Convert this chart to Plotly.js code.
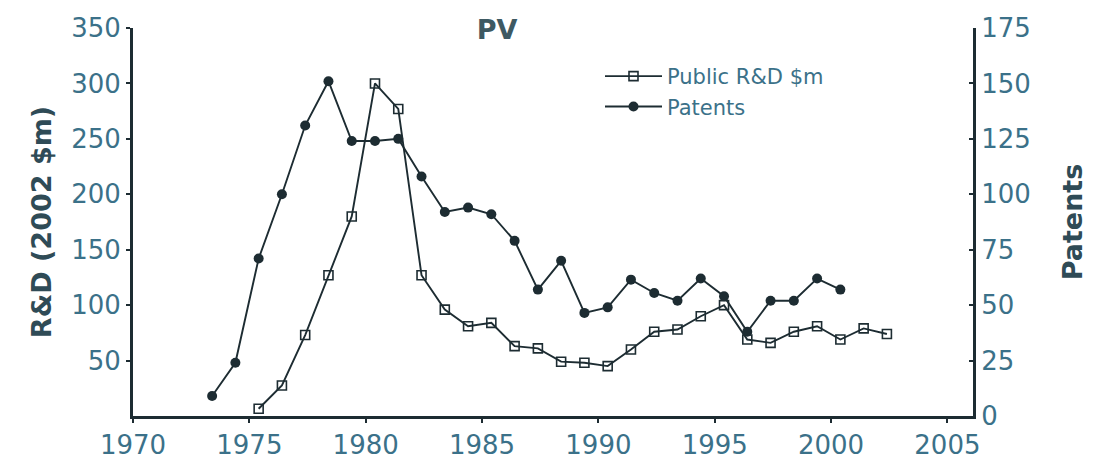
<!DOCTYPE html>
<html>
<head>
<meta charset="utf-8">
<script src="https://cdn.plot.ly/plotly-3.0.1.min.js"></script>
<style>html,body{margin:0;padding:0;background:#fff;}#chart{width:1113px;height:469px;}</style>
</head>
<body>
<div id="chart"></div>
<script>
// Data
const rdYears = [1975,1976,1977,1978,1979,1980,1981,1982,1983,1984,1985,1986,1987,1988,1989,1990,1991,1992,1993,1994,1995,1996,1997,1998,1999,2000,2001,2002];
const rdValues = [6.5,27.5,73,127,180,300,277,127,96,81,84,63,61,49,48,45,60,76,78,90,100,69,66,76,81,69,79,74];
const patentYears = [1973,1974,1975,1976,1977,1978,1979,1980,1981,1982,1983,1984,1985,1986,1987,1988,1989,1990,1991,1992,1993,1994,1995,1996,1997,1998,1999,2000];
const patentValues = [9,24,71,100,131,151,124,124,125,108,92,94,91,79,57,70,46.5,49,61.5,55.5,52,62,54,38,52,52,62,57];
const xTickVals = [1970,1975,1980,1985,1990,1995,2000,2005];
const leftTickVals = [50,100,150,200,250,300,350];
const rightTickVals = [0,25,50,75,100,125,150,175];

const midYear = 0.4; // points are drawn part-way into each year
const lineCol = '#1d2c32';
const tickCol = '#3b7189';
const titleCol = '#2f4b56';
const FONT = 'DejaVu Sans, sans-serif';

const traces = [
  {
    x: rdYears.map(y => y + midYear), y: rdValues, yaxis: 'y',
    name: 'Public R&D $m', mode: 'lines+markers',
    line: {color: lineCol, width: 1.9},
    marker: {symbol: 'square-open', size: 9, color: lineCol, line: {width: 1.6, color: lineCol}}
  },
  {
    x: patentYears.map(y => y + midYear), y: patentValues, yaxis: 'y2',
    name: 'Patents', mode: 'lines+markers',
    line: {color: lineCol, width: 1.9},
    marker: {symbol: 'circle', size: 10, color: lineCol}
  }
];

const layout = {
  width: 1113, height: 469,
  margin: {l: 133, r: 140, t: 28, b: 53},
  paper_bgcolor: '#fff', plot_bgcolor: '#fff',
  font: {family: FONT, color: tickCol},
  showlegend: true,
  title: {text: '<b>PV</b>', x: 497/1113, xanchor: 'center', y: 1 - 30/469, yanchor: 'middle',
          font: {family: FONT, size: 27, color: '#3e5962'}},
  xaxis: {
    range: [1970, 2006.1], tickvals: xTickVals, ticktext: xTickVals.map(String),
    showgrid: false, zeroline: false, showline: true, linecolor: lineCol, linewidth: 3,
    ticks: 'outside', ticklen: 4, tickwidth: 2, tickcolor: lineCol,
    tickfont: {size: 26, color: tickCol, family: FONT}
  },
  yaxis: {
    range: [0, 350], tickvals: leftTickVals, ticktext: leftTickVals.map(String),
    showgrid: false, zeroline: false, showline: true, linecolor: lineCol, linewidth: 3,
    ticks: 'outside', ticklen: 4, tickwidth: 2, tickcolor: lineCol,
    tickfont: {size: 26, color: tickCol, family: FONT},
    title: {text: '<b>R&D (2002 $m)</b>', standoff: 12, font: {size: 27, color: titleCol, family: FONT}}
  },
  yaxis2: {
    range: [0, 175], tickvals: rightTickVals, ticktext: rightTickVals.map(String),
    overlaying: 'y', side: 'right',
    showgrid: false, zeroline: false, showline: true, linecolor: lineCol, linewidth: 3,
    ticks: 'inside', ticklen: 4, tickwidth: 2, tickcolor: lineCol,
    tickfont: {size: 26, color: tickCol, family: FONT},
    title: {text: '<b>Patents</b>', standoff: 34, font: {size: 27, color: titleCol, family: FONT}}
  },
  legend: {
    x: (600 - 133) / 840, xanchor: 'left', y: (416 - 56) / 388, yanchor: 'top',
    bgcolor: 'rgba(0,0,0,0)', borderwidth: 0,
    font: {size: 21, color: tickCol, family: FONT},
    itemwidth: 57, tracegroupgap: 0
  }
};

Plotly.newPlot('chart', traces, layout, {displayModeBar: false, staticPlot: true});
</script>
</body>
</html>
